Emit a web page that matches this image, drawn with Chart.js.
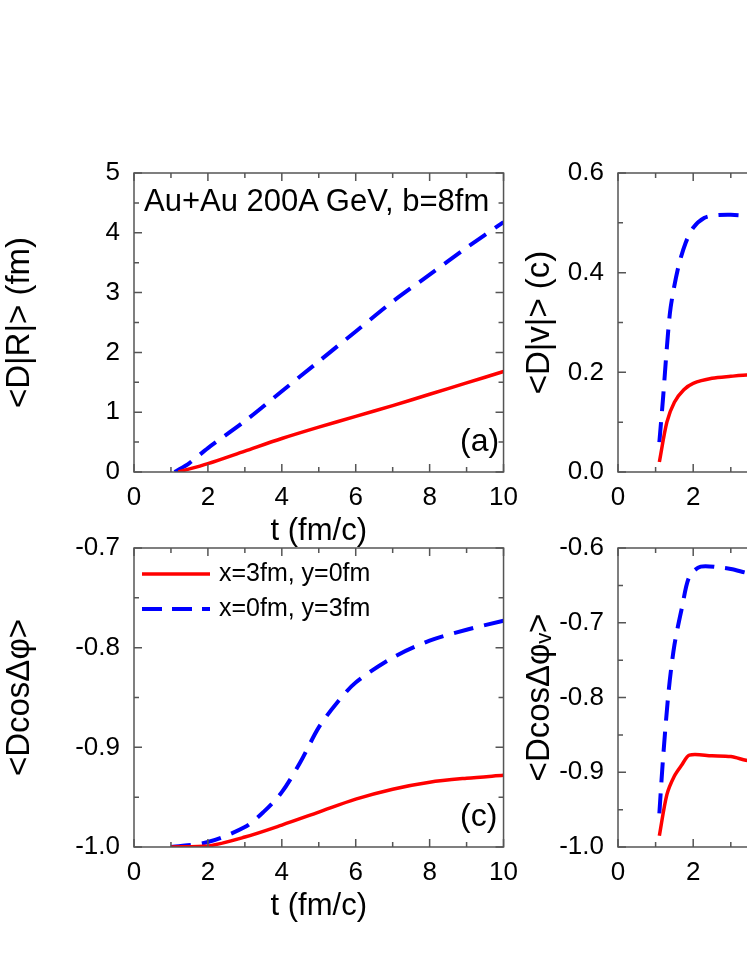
<!DOCTYPE html><html><head><meta charset="utf-8">
<script src="https://cdn.jsdelivr.net/npm/chart.js@4"></script>
<style>
body{margin:0;width:747px;height:967px;overflow:hidden;background:#fff;position:relative;font-family:"Liberation Sans",Arial,sans-serif}
canvas{position:absolute}
.t{position:absolute;font-size:26px;color:#000;white-space:nowrap}
</style></head><body>
<canvas id="ca" style="left:0;top:120px"></canvas>
<canvas id="cb" style="left:520px;top:120px"></canvas>
<canvas id="cc" style="left:0;top:495px"></canvas>
<canvas id="cd" style="left:520px;top:495px"></canvas>
<div class="t" style="left:144px;top:183px;font-size:31px">Au+Au 200A GeV, b=8fm</div>
<div class="t" style="left:460px;top:422px;font-size:32px">(a)</div>
<div class="t" style="left:460px;top:797px;font-size:32px">(c)</div>
<div class="t" style="left:140px;top:558px;font-size:25px"><svg width="72" height="20" style="vertical-align:middle"><line x1="2" y1="10" x2="70" y2="10" stroke="#ff0000" stroke-width="3.5"/></svg> x=3fm, y=0fm</div>
<div class="t" style="left:140px;top:593px;font-size:25px"><svg width="72" height="20" style="vertical-align:middle"><line x1="2" y1="10" x2="70" y2="10" stroke="#0000ff" stroke-width="4" stroke-dasharray="20,10"/></svg> x=0fm, y=3fm</div>
<script>
// Data
const aRedT=[1.2,2,3,4,5,6,7,8,9,10];
const aRed=[0,0.14,0.35,0.56,0.75,0.93,1.11,1.3,1.49,1.68];
const aBlueT=[1.1,1.5,2,3,4,5,6,7,8,9,10];
const aBlue=[0,0.15,0.4,0.85,1.35,1.85,2.35,2.85,3.3,3.75,4.18];
const bRedT=[1.1,1.3,1.5,1.75,2,2.5,3,3.5,4,6,8,10];
const bRed=[0.02,0.1,0.14,0.165,0.178,0.188,0.192,0.195,0.195,0.196,0.196,0.196];
const bBlueT=[1.1,1.2,1.3,1.4,1.6,1.8,2,2.3,2.6,3,3.5,4,6,8,10];
const bBlue=[0.06,0.15,0.25,0.33,0.41,0.46,0.49,0.51,0.515,0.516,0.514,0.512,0.51,0.51,0.51];
const cRedT=[1,2,3,4,5,6,7,8,9,10];
const cRed=[-1,-0.999,-0.99,-0.978,-0.965,-0.952,-0.942,-0.935,-0.931,-0.928];
const cBlueT=[1,2,3,3.5,4,4.5,5,5.5,6,7,8,9,10];
const cBlue=[-1,-0.995,-0.98,-0.965,-0.945,-0.915,-0.88,-0.855,-0.835,-0.81,-0.793,-0.782,-0.773];
const dRedT=[1.1,1.3,1.5,1.7,1.9,2.5,3,3.4,4,6,8,10];
const dRed=[-0.985,-0.93,-0.905,-0.89,-0.877,-0.878,-0.879,-0.884,-0.89,-0.9,-0.905,-0.908];
const dBlueT=[1.1,1.2,1.35,1.5,1.7,1.9,2.2,2.7,3,3.4,4,6,8,10];
const dBlue=[-0.955,-0.88,-0.79,-0.73,-0.68,-0.638,-0.625,-0.626,-0.628,-0.633,-0.64,-0.65,-0.655,-0.66];

const pts=(t,v)=>t.map((x,i)=>({x:x,y:v[i]}));
const F='"Liberation Sans",Arial,sans-serif';
const frame={id:'frame',afterDatasetsDraw(ch){
  const {ctx,chartArea:a,scales:{x,y}}=ch;ctx.save();ctx.strokeStyle='#555';ctx.lineWidth=1.5;
  ctx.strokeRect(a.left,a.top,a.right-a.left,a.bottom-a.top);
  const xm=ch.options.plugins.frame;
  for(let v=x.min;v<=x.max+1e-9;v+=xm.xs/2){const p=x.getPixelForValue(v);const L=(Math.round(v/xm.xs*2)%2==0)?8:5;
    ctx.beginPath();ctx.moveTo(p,a.bottom);ctx.lineTo(p,a.bottom-L);ctx.moveTo(p,a.top);ctx.lineTo(p,a.top+L);ctx.stroke();}
  for(let i=0;;i++){const v=y.min+i*xm.ys/2;if(v>y.max+1e-9)break;const p=y.getPixelForValue(v);const L=i%2==0?8:5;
    ctx.beginPath();ctx.moveTo(a.left,p);ctx.lineTo(a.left+L,p);ctx.moveTo(a.right,p);ctx.lineTo(a.right-L,p);ctx.stroke();}
  ctx.restore();}};
function mk(id,w,red,blue,ymin,ymax,ys,ytitle,xtitle,yw,dec){
  const c=document.getElementById(id);c.width=w;c.height=430;
  new Chart(c,{type:'line',data:{datasets:[
    {data:red,borderColor:'#ff0000',borderWidth:3.5,pointRadius:0,tension:0.3},
    {data:blue,borderColor:'#0000ff',borderWidth:4,borderDash:[20,11],pointRadius:0,tension:0.3}]},
   options:{responsive:false,animation:false,events:[],
    layout:{padding:{top:53,right:w-(yw+376)}},
    plugins:{legend:{display:false},tooltip:{enabled:false},frame:{xs:2,ys:ys}},
    scales:{x:{type:'linear',min:0,max:10,grid:{display:false},border:{display:false},
      ticks:{stepSize:2,color:'#000',font:{family:F,size:26},padding:2},
      title:{display:!!xtitle,text:xtitle,color:'#000',font:{family:F,size:31},padding:0},
      afterFit(s){s.height=78;}},
     y:{min:ymin,max:ymax,grid:{display:false},border:{display:false},
      ticks:{stepSize:ys,color:'#000',font:{family:F,size:26},padding:6,callback:v=>Number(v).toFixed(dec)},
      title:{display:true,text:ytitle,color:'#000',font:{family:F,size:33},padding:0},
      afterFit(s){s.width=yw;}}}},plugins:[frame]});
}
mk('ca',520,pts(aRedT,aRed),pts(aBlueT,aBlue),0,5,1,'<D|R|> (fm)','t (fm/c)',134,0);
mk('cb',500,pts(bRedT,bRed),pts(bBlueT,bBlue),0,0.6,0.2,'<D|v|> (c)','',98,1);
mk('cc',520,pts(cRedT,cRed),pts(cBlueT,cBlue),-1,-0.7,0.1,'<Dcos\u0394\u03C6>','t (fm/c)',134,1);
mk('cd',500,pts(dRedT,dRed),pts(dBlueT,dBlue),-1,-0.6,0.1,'<Dcos\u0394\u03C6\u1D65>','',98,1);
</script></body></html>
